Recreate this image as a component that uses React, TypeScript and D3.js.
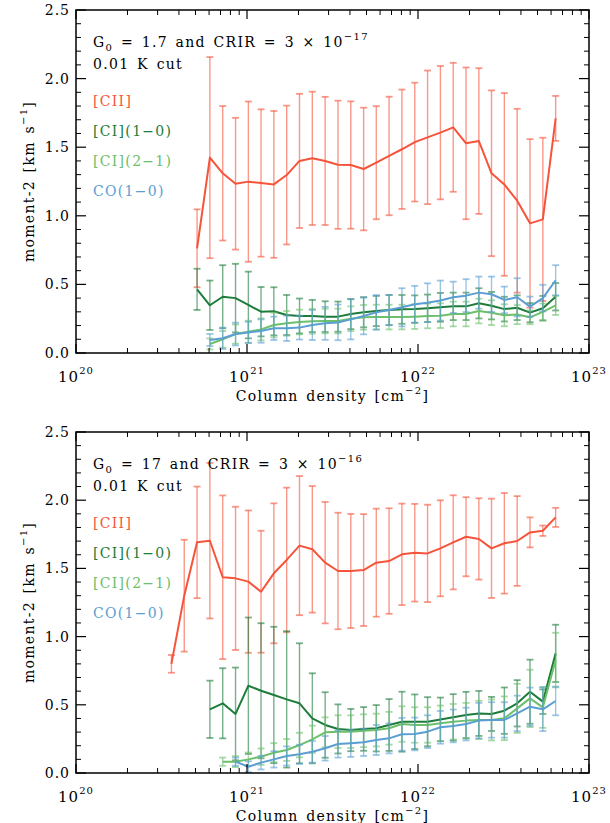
import React from 'react';
import * as d3 from 'd3';

// log10 of column density bin centres (cm^-2)
const logColumn = [
  20.558, 20.633, 20.708, 20.783, 20.858, 20.933, 21.008, 21.082, 21.157, 21.232,
  21.307, 21.382, 21.457, 21.532, 21.607, 21.682, 21.756, 21.831, 21.906, 21.981,
  22.056, 22.131, 22.206, 22.281, 22.356, 22.430, 22.505, 22.580, 22.655, 22.730, 22.805,
];

const N = null;

// Top panel: G0 = 1.7, CRIR = 3e-17
const topCII = [N, N, 0.763, 1.424, 1.31, 1.234, 1.249, 1.239, 1.229, 1.297, 1.40, 1.419, 1.40, 1.372, 1.37, 1.341, 1.387, 1.436, 1.485, 1.537, 1.572, 1.606, 1.645, 1.528, 1.545, 1.31, 1.229, 1.11, 0.945, 0.974, 1.71];
const topCIIErr = [N, N, 0.284, 0.733, 0.49, 0.48, 0.584, 0.537, 0.535, 0.506, 0.489, 0.486, 0.467, 0.467, 0.464, 0.447, 0.412, 0.432, 0.435, 0.433, 0.487, 0.486, 0.47, 0.553, 0.531, 0.604, 0.666, 0.67, 0.614, 0.595, 0.164];
const topCI10 = [N, N, 0.464, 0.348, 0.41, 0.40, 0.35, 0.301, 0.304, 0.277, 0.27, 0.27, 0.265, 0.265, 0.284, 0.297, 0.306, 0.313, 0.318, 0.32, 0.326, 0.333, 0.34, 0.34, 0.362, 0.345, 0.32, 0.33, 0.294, 0.326, 0.41];
const topCI10Err = [N, N, 0.15, 0.18, 0.23, 0.25, 0.243, 0.18, 0.175, 0.146, 0.127, 0.117, 0.112, 0.11, 0.11, 0.11, 0.11, 0.11, 0.105, 0.1, 0.1, 0.105, 0.1, 0.1, 0.11, 0.1, 0.09, 0.09, 0.07, 0.09, 0.1];
const topCI21 = [N, N, N, 0.066, 0.1, 0.138, 0.155, 0.172, 0.204, 0.216, 0.226, 0.231, 0.233, 0.233, 0.25, 0.26, 0.262, 0.262, 0.262, 0.265, 0.27, 0.272, 0.284, 0.284, 0.306, 0.294, 0.275, 0.28, 0.26, 0.30, 0.347];
const topCI21Err = [N, N, N, 0.04, 0.06, 0.07, 0.08, 0.08, 0.09, 0.09, 0.09, 0.09, 0.09, 0.09, 0.09, 0.09, 0.09, 0.09, 0.09, 0.09, 0.09, 0.09, 0.09, 0.09, 0.09, 0.09, 0.08, 0.07, 0.05, 0.06, 0.07];
const topCO = [N, N, N, 0.095, 0.107, 0.138, 0.15, 0.16, 0.18, 0.18, 0.185, 0.204, 0.216, 0.223, 0.245, 0.27, 0.296, 0.313, 0.333, 0.355, 0.367, 0.382, 0.406, 0.418, 0.44, 0.428, 0.387, 0.406, 0.338, 0.40, 0.53];
const topCOErr = [N, N, N, 0.044, 0.078, 0.083, 0.078, 0.085, 0.085, 0.092, 0.087, 0.109, 0.12, 0.13, 0.146, 0.134, 0.126, 0.11, 0.139, 0.134, 0.141, 0.146, 0.114, 0.12, 0.117, 0.129, 0.097, 0.139, 0.073, 0.097, 0.11];

// Bottom panel: G0 = 17, CRIR = 3e-16
const botCII = [0.80, 1.30, 1.691, 1.703, 1.435, 1.427, 1.403, 1.329, 1.464, 1.562, 1.667, 1.64, 1.542, 1.481, 1.481, 1.488, 1.542, 1.554, 1.603, 1.615, 1.61, 1.647, 1.691, 1.732, 1.716, 1.647, 1.684, 1.701, 1.764, 1.776, 1.874];
const botCIIErr = [0.065, 0.41, 0.409, 0.57, 0.60, 0.525, 0.522, 0.447, 0.513, 0.53, 0.51, 0.464, 0.445, 0.427, 0.418, 0.41, 0.396, 0.387, 0.372, 0.358, 0.357, 0.352, 0.345, 0.29, 0.298, 0.364, 0.369, 0.329, 0.11, 0.038, 0.07];
const botCI10 = [N, N, N, 0.467, 0.511, 0.433, 0.64, 0.603, 0.572, 0.54, 0.511, 0.401, 0.352, 0.323, 0.315, 0.323, 0.328, 0.352, 0.376, 0.376, 0.376, 0.393, 0.408, 0.425, 0.437, 0.433, 0.457, 0.511, 0.596, 0.523, 0.877];
const botCI10Err = [N, N, N, 0.21, 0.257, 0.34, 0.5, 0.495, 0.5, 0.5, 0.44, 0.33, 0.24, 0.18, 0.155, 0.16, 0.17, 0.19, 0.22, 0.2, 0.18, 0.16, 0.17, 0.17, 0.165, 0.125, 0.17, 0.17, 0.235, 0.09, 0.21];
const botCI21 = [N, N, N, N, 0.083, 0.083, 0.1, 0.12, 0.149, 0.169, 0.205, 0.247, 0.298, 0.303, 0.303, 0.31, 0.315, 0.328, 0.359, 0.352, 0.352, 0.364, 0.376, 0.384, 0.389, 0.389, 0.401, 0.474, 0.547, 0.481, 0.828];
const botCI21Err = [N, N, N, N, 0.03, 0.04, 0.05, 0.06, 0.07, 0.08, 0.09, 0.1, 0.11, 0.12, 0.12, 0.12, 0.12, 0.12, 0.13, 0.13, 0.13, 0.13, 0.13, 0.13, 0.14, 0.15, 0.16, 0.18, 0.21, 0.15, 0.2];
const botCO = [N, N, N, N, N, 0.083, 0.046, 0.076, 0.1, 0.125, 0.137, 0.156, 0.181, 0.213, 0.218, 0.225, 0.242, 0.254, 0.284, 0.286, 0.303, 0.335, 0.345, 0.359, 0.384, 0.389, 0.389, 0.437, 0.486, 0.467, 0.528];
const botCOErr = [N, N, N, N, N, 0.03, 0.04, 0.05, 0.06, 0.07, 0.07, 0.08, 0.09, 0.1, 0.1, 0.1, 0.11, 0.11, 0.12, 0.12, 0.12, 0.12, 0.12, 0.12, 0.13, 0.13, 0.13, 0.13, 0.14, 0.16, 0.105];

const speciesLabels = ['[CII]', '[CI](1\u22120)', '[CI](2\u22121)', 'CO(1\u22120)'];
const speciesColors = ['#f5543b', '#1d7c3a', '#6cc06a', '#5b9ed2'];
const yTicks = [0, 0.5, 1.0, 1.5, 2.0, 2.5];
const xDecades = [20, 21, 22, 23];

const panelG0 = ['1.7', '17'];
const panelCRIRExp = ['\u221217', '\u221216'];

const FONT = 'DejaVu Serif';
const LEFT = 76;
const RIGHT = 589;

type PanelProps = {
  top: number;
  bottom: number;
  values: (number | null)[][];
  errors: (number | null)[][];
  g0: string;
  crirExp: string;
  id: string;
};

function Panel({ top, bottom, values, errors, g0, crirExp, id }: PanelProps) {
  const x = d3.scaleLog().domain([1e20, 1e23]).range([LEFT, RIGHT]);
  const y = d3.scaleLinear().domain([0, 2.5]).range([bottom, top]);
  const xs = logColumn.map((l) => x(Math.pow(10, l)));

  const minorX: number[] = [];
  for (let d = 20; d < 23; d++) for (let m = 2; m <= 9; m++) minorX.push(m * Math.pow(10, d));
  const minorY = d3.range(0, 26).map((i) => i / 10).filter((v) => Math.abs(v * 2 - Math.round(v * 2)) > 1e-6);

  const line = d3
    .line<number | null>()
    .defined((d) => d != null)
    .x((_, i) => xs[i])
    .y((d) => y(d as number));

  const textStyle = { fontFamily: FONT, fontSize: 14, letterSpacing: 1.3, wordSpacing: 2 } as React.CSSProperties;

  return (
    <g>
      <defs>
        <clipPath id={id}>
          <rect x={LEFT} y={top} width={RIGHT - LEFT} height={bottom - top} />
        </clipPath>
      </defs>
      <g clipPath={`url(#${id})`}>
        {values.map((series, s) => (
          <g key={s}>
            {series.map((v, i) => {
              const e = errors[s][i];
              if (v == null || e == null) return null;
              const yh = y(v + e);
              const yl = y(Math.max(0, v - e));
              const c = speciesColors[s];
              return (
                <g key={i} stroke={c} strokeOpacity={0.6} strokeWidth={1.4}>
                  <line x1={xs[i]} x2={xs[i]} y1={yh} y2={yl} />
                  <line x1={xs[i] - 3.5} x2={xs[i] + 3.5} y1={yh} y2={yh} strokeWidth={1.8} />
                  <line x1={xs[i] - 3.5} x2={xs[i] + 3.5} y1={yl} y2={yl} strokeWidth={1.8} />
                </g>
              );
            })}
            <path d={line(series) || ''} fill="none" stroke={speciesColors[s]} strokeWidth={2} strokeLinejoin="round" />
          </g>
        ))}
      </g>

      {/* frame */}
      <rect x={LEFT} y={top} width={RIGHT - LEFT} height={bottom - top} fill="none" stroke="#000" strokeWidth={1.5} />

      {/* x ticks */}
      {xDecades.map((d) => {
        const px = x(Math.pow(10, d));
        return (
          <g key={d}>
            <line x1={px} x2={px} y1={bottom} y2={bottom - 9} stroke="#000" strokeWidth={1.2} />
            <line x1={px} x2={px} y1={top} y2={top + 9} stroke="#000" strokeWidth={1.2} />
            <text x={px} y={bottom + 29} textAnchor="middle" style={{ fontFamily: FONT, fontSize: 15, letterSpacing: 1 }}>
              10<tspan dy={-8} fontSize={10}>{d}</tspan>
            </text>
          </g>
        );
      })}
      {minorX.map((v, i) => {
        const px = x(v);
        return (
          <g key={i} stroke="#000" strokeWidth={1}>
            <line x1={px} x2={px} y1={bottom} y2={bottom - 5} />
            <line x1={px} x2={px} y1={top} y2={top + 5} />
          </g>
        );
      })}

      {/* y ticks */}
      {yTicks.map((v) => {
        const py = y(v);
        return (
          <g key={v}>
            <line x1={LEFT} x2={LEFT + 10} y1={py} y2={py} stroke="#000" strokeWidth={1.2} />
            <line x1={RIGHT} x2={RIGHT - 10} y1={py} y2={py} stroke="#000" strokeWidth={1.2} />
            <text x={70} y={py + 5} textAnchor="end" style={{ fontFamily: FONT, fontSize: 14, letterSpacing: 1 }}>
              {v.toFixed(1)}
            </text>
          </g>
        );
      })}
      {minorY.map((v, i) => {
        const py = y(v);
        return (
          <g key={i} stroke="#000" strokeWidth={1}>
            <line x1={LEFT} x2={LEFT + 5} y1={py} y2={py} />
            <line x1={RIGHT} x2={RIGHT - 5} y1={py} y2={py} />
          </g>
        );
      })}

      {/* axis titles */}
      <text x={(LEFT + RIGHT) / 2} y={bottom + 48} textAnchor="middle" style={textStyle}>
        Column density [cm<tspan dy={-7} fontSize={10}>{'\u22122'}</tspan>
        <tspan dy={7}>]</tspan>
      </text>
      <text
        transform={`translate(34, ${(top + bottom) / 2}) rotate(-90)`}
        textAnchor="middle"
        style={textStyle}
      >
        moment-2 [km s<tspan dy={-7} fontSize={10}>{'\u22121'}</tspan>
        <tspan dy={7}>]</tspan>
      </text>

      {/* annotation */}
      <text x={93} y={top + 37} style={textStyle}>
        G<tspan dy={4} fontSize={10}>0</tspan>
        <tspan dy={-4}>{` = ${g0} and CRIR = 3 \u00d7 10`}</tspan>
        <tspan dy={-7} fontSize={10}>{crirExp}</tspan>
      </text>
      <text x={93} y={top + 59} style={textStyle}>
        0.01 K cut
      </text>
      {speciesLabels.map((lab, s) => (
        <text key={s} x={93} y={top + 96 + s * 30} fill={speciesColors[s]} style={textStyle}>
          {lab}
        </text>
      ))}
    </g>
  );
}

export default function App() {
  return (
    <svg
      width={610}
      height={823}
      viewBox="0 0 610 823"
      style={{ position: 'absolute', left: 0, top: 0, background: '#fff' }}
    >
      <rect width={610} height={823} fill="#fff" />
      <Panel
        id="clipTop"
        top={10}
        bottom={353}
        values={[topCII, topCI10, topCI21, topCO]}
        errors={[topCIIErr, topCI10Err, topCI21Err, topCOErr]}
        g0={panelG0[0]}
        crirExp={panelCRIRExp[0]}
      />
      <Panel
        id="clipBot"
        top={432}
        bottom={773}
        values={[botCII, botCI10, botCI21, botCO]}
        errors={[botCIIErr, botCI10Err, botCI21Err, botCOErr]}
        g0={panelG0[1]}
        crirExp={panelCRIRExp[1]}
      />
    </svg>
  );
}
